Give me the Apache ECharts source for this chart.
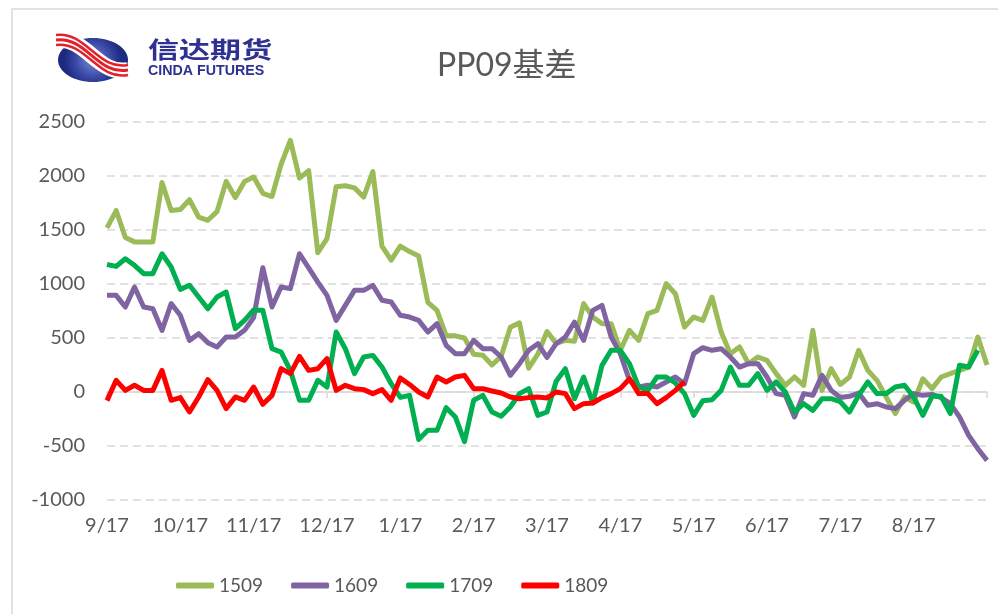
<!DOCTYPE html>
<html>
<head>
<meta charset="utf-8">
<script src="https://cdn.jsdelivr.net/npm/echarts@6/dist/echarts.min.js"></script>
<style>
  html, body { margin: 0; padding: 0; background: #fff; }
  #main { width: 998px; height: 614px; }
</style>
</head>
<body>
<div id="main"></div>
<script>
// 月份刻度（最后一个刻度无标签）
const months = ['9/17', '10/17', '11/17', '12/17', '1/17', '2/17', '3/17', '4/17', '5/17', '6/17', '7/17', '8/17', ''];
const names = ['1509', '1609', '1709', '1809'];
const colors = ['#9BBB59', '#8064A2', '#00B050', '#FF0000'];
// 每个点相隔 1/8 个月，从 9/17 开始
const STEP = 1 / 8;

// 基差数据
const s1509 = [1520, 1680, 1430, 1390, 1390, 1390, 1940, 1680, 1690, 1780,
  1620, 1590, 1670, 1950, 1800, 1950, 1990, 1840, 1810, 2110,
  2330, 1980, 2050, 1290, 1420, 1900, 1910, 1890, 1805, 2040,
  1350, 1220, 1350, 1300, 1260, 830, 756, 520, 520, 500,
  350, 340, 250, 330, 600, 640, 220, 350, 560, 450,
  478, 470, 818, 694, 633, 633, 386, 571, 478, 725,
  756, 1003, 910, 602, 694, 663, 880, 555, 355, 417,
  262, 324, 293, 170, 62, 139, 62, 571, 15, 216,
  70, 139, 386, 200, 108, -46, -200, -46, -93, 123,
  31, 139, 170, 200, 231, 509, 250];

const s1609 = [895, 895, 787, 972, 787, 771, 571, 818, 710, 478,
  540, 457, 417, 509, 509, 571, 690, 1150, 787, 972,
  957, 1280, 1150, 1018, 895, 663, 802, 941, 941, 987,
  849, 833, 710, 694, 663, 555, 633, 432, 355, 355,
  478, 401, 401, 324, 154, 262, 386, 447, 320, 447,
  509, 648, 478, 756, 802, 509, 355, 108, 46, 62,
  46, 93, 139, 77, 355, 410, 386, 401, 324, 231,
  262, 262, 139, -15, -31, -231, -15, -31, 154, 15,
  -50, -40, -10, -123, -108, -139, -154, -77, -15, -31,
  -22, -52, -108, -231, -401, -525, -633];

const s1709 = [1180, 1163, 1234, 1173, 1096, 1096, 1280, 1157, 950, 988,
  880, 771, 880, 926, 586, 663, 760, 756, 401, 370,
  200, -77, -77, 108, 46, 555, 401, 170, 324, 339,
  231, 77, -50, -31, -440, -355, -355, -145, -231, -460,
  -77, -31, -185, -225, -139, -15, 31, -216, -185, 100,
  216, -62, 139, -102, 247, 386, 386, 262, 46, 15,
  139, 139, 83, -15, -216, -80, -71, 15, 231, 62,
  62, 170, 15, 93, 0, -185, -108, -170, -62, -62,
  -90, -185, -31, 93, -15, -15, 46, 62, -46, -216,
  -40, -40, -200, 247, 231, 386];

const s1809 = [-80, 108, 15, 62, 15, 15, 200, -77, -52, -185,
  -46, 114, 15, -154, -46, -77, 46, -114, -31, 216,
  170, 330, 200, 216, 309, 15, 62, 31, 22, -15,
  22, -77, 130, 70, 0, -46, 139, 93, 139, 154,
  31, 31, 9, -9, -46, -62, -52, -46, -55, 0,
  -15, -154, -108, -102, -52, -15, 31, 123, -15, -15,
  -108, -52, 15, 93];

const seriesValues = [s1509, s1609, s1709, s1809];

const latin = 'Lato, "Noto Sans CJK SC", sans-serif';

const chart = echarts.init(document.getElementById('main'));

// 左上角 logo（近似绘制）
const logoBlue = new echarts.graphic.RadialGradient(0.5, 0.5, 0.65, [
  { offset: 0, color: '#7d8ad6' },
  { offset: 0.6, color: '#3b4aa6' },
  { offset: 1, color: '#1d2a80' }
]);
const swoosh = (d, color, width) => ({
  type: 'bezierCurve',
  silent: true,
  shape: { x1: 56, y1: 40 + d, cpx1: 86, cpy1: 36 + d, cpx2: 98, cpy2: 76 + d, x2: 128, y2: 70 + d },
  style: { stroke: color, lineWidth: width, fill: 'none' }
});

const option = {
  animation: false,
  title: {
    text: 'PP09基差',
    left: 432,
    top: 45,
    textStyle: { fontSize: 32, fontWeight: 'normal', color: '#595959', fontFamily: latin }
  },
  legend: {
    data: names,
    left: 171,
    top: 571,
    icon: 'roundRect',
    itemWidth: 38,
    itemHeight: 6,
    itemGap: 28,
    textStyle: { fontSize: 19, color: '#595959', fontFamily: latin, width: 60 }
  },
  grid: { left: 107, right: 11, top: 122, bottom: 114 },
  xAxis: {
    type: 'value',
    min: 0,
    max: 12,
    interval: 1,
    axisLine: { lineStyle: { color: '#d9d9d9', width: 1.5 } },
    axisTick: { show: true, length: 6, lineStyle: { color: '#d9d9d9', width: 1.5 } },
    axisLabel: {
      fontSize: 20, color: '#595959', fontFamily: latin, margin: 16,
      formatter: v => months[Math.round(v)] || ''
    },
    splitLine: { show: false }
  },
  yAxis: {
    type: 'value',
    min: -1000,
    max: 2500,
    interval: 500,
    axisLine: { show: false },
    axisTick: { show: false },
    axisLabel: {
      fontSize: 20, color: '#595959', fontFamily: latin, margin: 22,
      formatter: v => String(v)
    },
    splitLine: { lineStyle: { color: '#d9d9d9', width: 1.5, type: [8, 5] } }
  },
  series: names.map((name, i) => ({
    name,
    type: 'line',
    showSymbol: false,
    symbol: 'none',
    color: colors[i],
    lineStyle: { width: 5, color: colors[i], join: 'round' },
    data: seriesValues[i].map((v, k) => [k * STEP, v])
  })),
  graphic: [
    {
      type: 'rect', silent: true,
      shape: { x: 12, y: 9, width: 1000, height: 700 },
      style: { fill: 'none', stroke: '#d9d9d9', lineWidth: 1.5 }
    },
    {
      type: 'ellipse', silent: true,
      shape: { cx: 93, cy: 60, rx: 35, ry: 22 },
      style: { fill: logoBlue }
    },
    swoosh(0, '#ffffff', 16),
    swoosh(-5, '#e3212b', 2.5),
    swoosh(0, '#e3212b', 3),
    swoosh(5, '#e3212b', 2.5),
    {
      type: 'text', silent: true,
      x: 148, y: 38, scaleX: 1.35,
      style: { text: '信达期货', fontSize: 23, fontWeight: 'bold', fontFamily: '"Noto Sans CJK SC"', fill: '#2e3192' }
    },
    {
      type: 'text', silent: true,
      x: 148, y: 63, scaleX: 0.95,
      style: { text: 'CINDA FUTURES', fontSize: 15, fontWeight: 'bold', fontFamily: '"Liberation Sans", Arial, sans-serif', fill: '#2e3192' }
    }
  ]
};

chart.setOption(option);
</script>
</body>
</html>
